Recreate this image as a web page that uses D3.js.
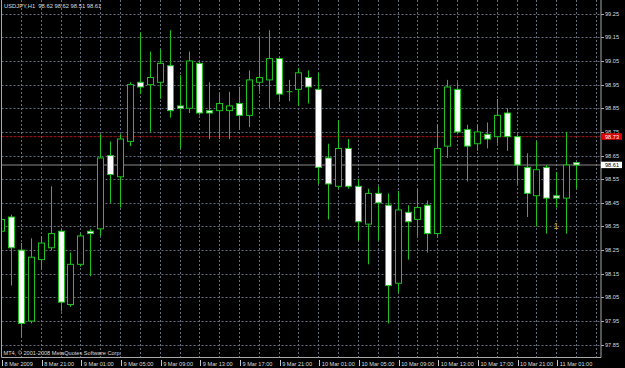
<!DOCTYPE html>
<html>
<head>
<meta charset="utf-8">
<script src="https://cdn.jsdelivr.net/npm/d3@7"></script>
<style>
  html, body { margin: 0; padding: 0; background: #000; }
  svg { display: block; }
  text { font-family: "Liberation Sans", Arial, sans-serif; }
</style>
</head>
<body>
<div id="chart"></div>
<script>
// USDJPY H1 bars, 8 Mar 17:00 .. 11 Mar 03:00 (one per hour)
const opens  = [98.33, 98.39, 98.25, 97.95, 98.21, 98.26, 98.33, 98.02, 98.19, 98.33,
                98.34, 98.65, 98.56, 98.71, 98.96, 98.95, 98.96, 99.03, 98.86, 98.85,
                99.04, 98.84, 98.84, 98.84, 98.87, 98.82, 98.96, 98.97, 99.06, 98.92,
                98.93, 98.98, 98.93, 98.64, 98.52, 98.68, 98.52, 98.36, 98.49, 98.44,
                98.11, 98.41, 98.38, 98.44, 98.32, 98.69, 98.93, 98.76, 98.70, 98.74,
                98.73, 98.83, 98.73, 98.60, 98.48, 98.60, 98.48, 98.47, 98.62];
const highs  = [98.41, 98.40, 98.28, 98.30, 98.31, 98.52, 98.34, 98.24, 98.32, 98.34,
                98.74, 98.71, 98.74, 98.96, 99.17, 99.09, 99.10, 99.18, 98.99, 99.09,
                99.05, 98.96, 98.91, 98.92, 98.94, 99.01, 99.15, 99.18, 99.07, 98.97,
                99.02, 99.01, 99.00, 98.70, 98.80, 98.72, 98.55, 98.51, 98.52, 98.49,
                98.50, 98.44, 98.51, 98.46, 98.78, 98.97, 98.96, 98.78, 98.78, 98.79,
                98.89, 98.85, 98.74, 98.66, 98.71, 98.61, 98.58, 98.75, 98.62];
const lows   = [98.26, 98.10, 97.88, 97.94, 98.17, 98.25, 97.99, 98.01, 98.18, 98.14,
                98.31, 98.45, 98.43, 98.69, 98.91, 98.75, 98.89, 98.81, 98.68, 98.83,
                98.82, 98.72, 98.72, 98.72, 98.76, 98.77, 98.92, 98.85, 98.88, 98.88,
                98.86, 98.87, 98.53, 98.38, 98.51, 98.51, 98.29, 98.19, 98.29, 97.94,
                98.07, 98.21, 98.31, 98.24, 98.31, 98.64, 98.74, 98.54, 98.67, 98.68,
                98.70, 98.67, 98.53, 98.39, 98.35, 98.32, 98.43, 98.32, 98.51];
const closes = [98.38, 98.26, 97.94, 98.22, 98.28, 98.32, 98.03, 98.19, 98.31, 98.32,
                98.64, 98.57, 98.72, 98.95, 98.94, 98.98, 99.04, 98.84, 98.85, 99.05,
                98.83, 98.83, 98.87, 98.86, 98.82, 98.97, 98.98, 99.06, 98.91, 98.92,
                99.00, 98.94, 98.60, 98.53, 98.68, 98.52, 98.37, 98.49, 98.45, 98.10,
                98.42, 98.37, 98.43, 98.32, 98.68, 98.94, 98.75, 98.69, 98.75, 98.72,
                98.82, 98.73, 98.61, 98.49, 98.59, 98.47, 98.47, 98.61, 98.61];

const timeLabels = ["8 Mar 2009", "8 Mar 21:00", "9 Mar 01:00", "9 Mar 05:00", "9 Mar 09:00",
                    "9 Mar 13:00", "9 Mar 17:00", "9 Mar 21:00", "10 Mar 01:00", "10 Mar 05:00",
                    "10 Mar 09:00", "10 Mar 13:00", "10 Mar 17:00", "10 Mar 21:00", "11 Mar 01:00"];
const priceTicks = [99.25, 99.15, 99.05, 98.95, 98.85, 98.75, 98.65, 98.55,
                    98.45, 98.35, 98.25, 98.15, 98.05, 97.95, 97.85];
const askPrice = 98.73;
const bidPrice = 98.61;

const W = 625, H = 368;
const left = 1.5, right = 601, bottom = 357.5;
const green = "#1cc41c";
const gridColor = "#646e7e";
const textColor = "#dcdcdc";

const svg = d3.select("#chart").append("svg").attr("width", W).attr("height", H);
svg.append("rect").attr("width", W).attr("height", H).attr("fill", "#000");

// bar index -> pixel (about 9.9 px per hour)
const x = d3.scaleLinear().domain([0, 60]).range([1.04, 1.04 + 60 * 9.915]);
const y = d3.scaleLinear().domain([97.85, 99.25]).range([344.7, 13.7]);

svg.append("clipPath").attr("id", "plot")
  .append("rect").attr("x", left + 0.5).attr("y", 0).attr("width", right - left - 1).attr("height", bottom);

// grid
const grid = svg.append("g").attr("stroke", gridColor).attr("stroke-dasharray", "2,2").attr("stroke-width", 1);
grid.selectAll("line.h").data(priceTicks).join("line").attr("class", "h")
  .attr("x1", left).attr("x2", right)
  .attr("y1", d => Math.round(y(d)) + 0.5).attr("y2", d => Math.round(y(d)) + 0.5);
grid.selectAll("line.v").data(d3.range(2, 61, 2)).join("line").attr("class", "v")
  .attr("x1", d => Math.round(x(d)) + 0.5).attr("x2", d => Math.round(x(d)) + 0.5)
  .attr("y1", 0).attr("y2", bottom);

// ask / bid lines
svg.append("line").attr("x1", left).attr("x2", right)
  .attr("y1", y(askPrice)).attr("y2", y(askPrice))
  .attr("stroke", "#a01414").attr("stroke-width", 1).attr("stroke-dasharray", "3,1");
svg.append("line").attr("x1", left).attr("x2", right)
  .attr("y1", y(bidPrice)).attr("y2", y(bidPrice))
  .attr("stroke", "#8a8a8a").attr("stroke-width", 1);

// candles
const bars = opens.map((o, i) => ({ i, o, h: highs[i], l: lows[i], c: closes[i] }));
const plot = svg.append("g").attr("clip-path", "url(#plot)");
plot.selectAll("line.wick").data(bars).join("line").attr("class", "wick")
  .attr("x1", d => Math.round(x(d.i)) + 0.5).attr("x2", d => Math.round(x(d.i)) + 0.5)
  .attr("y1", d => y(d.h)).attr("y2", d => y(d.l))
  .attr("stroke", green).attr("stroke-width", 1);
plot.selectAll("rect.body").data(bars.filter(d => d.o !== d.c)).join("rect").attr("class", "body")
  .attr("x", d => Math.round(x(d.i)) - 2.5)
  .attr("y", d => y(Math.max(d.o, d.c)))
  .attr("width", 6)
  .attr("height", d => Math.max(1, Math.abs(y(d.o) - y(d.c))))
  .attr("fill", d => d.c > d.o ? "#000" : "#fff")
  .attr("stroke", green).attr("stroke-width", 1);
plot.selectAll("line.doji").data(bars.filter(d => d.o === d.c)).join("line").attr("class", "doji")
  .attr("x1", d => Math.round(x(d.i)) - 2.5).attr("x2", d => Math.round(x(d.i)) + 3.5)
  .attr("y1", d => y(d.o)).attr("y2", d => y(d.o))
  .attr("stroke", green).attr("stroke-width", 1);

// frame
const frame = svg.append("g").attr("stroke", "#a8a8a8").attr("stroke-width", 1).attr("fill", "none");
frame.append("path").attr("d", `M${left},0V${bottom}H${right}V0`);

// price axis
const yAxis = svg.append("g");
yAxis.selectAll("line").data(priceTicks).join("line")
  .attr("x1", right).attr("x2", right + 3)
  .attr("y1", d => Math.round(y(d)) + 0.5).attr("y2", d => Math.round(y(d)) + 0.5)
  .attr("stroke", "#a8a8a8");
yAxis.selectAll("text").data(priceTicks).join("text")
  .attr("x", right + 4).attr("y", d => y(d) + 2)
  .attr("font-size", 5.6).attr("fill", textColor)
  .text(d => d.toFixed(2));

// current price boxes
const boxes = [
  { p: askPrice, bg: "#e00000", fg: "#ffffff" },
  { p: bidPrice, bg: "#ffffff", fg: "#000000" }
];
boxes.forEach(b => {
  svg.append("rect").attr("x", right).attr("y", y(b.p) - 3.3).attr("width", 21).attr("height", 6.4).attr("fill", b.bg);
  svg.append("text").attr("x", right + 4).attr("y", y(b.p) + 2)
    .attr("font-size", 5.6).attr("fill", b.fg).text(b.p.toFixed(2));
});

// time axis
const xAxis = svg.append("g");
xAxis.selectAll("line").data(timeLabels).join("line")
  .attr("x1", (d, i) => Math.round(x(i * 4)) + 1.5).attr("x2", (d, i) => Math.round(x(i * 4)) + 1.5)
  .attr("y1", 360).attr("y2", 366)
  .attr("stroke", "#c8c8c8");
xAxis.selectAll("text").data(timeLabels).join("text")
  .attr("x", (d, i) => x(i * 4) + 3.5).attr("y", 365.5)
  .attr("font-size", 5.6).attr("fill", textColor)
  .text(d => d);

// header and footer
svg.append("text").attr("x", 4).attr("y", 8).attr("font-size", 5.8).attr("fill", textColor)
  .attr("xml:space", "preserve")
  .text("USDJPY,H1  98.62 98.62 98.51 98.61");
svg.append("text").attr("x", 3.5).attr("y", 354.5).attr("font-size", 5.6).attr("fill", textColor)
  .text("MT4, \u00A9 2001-2008 MetaQuotes Software Corp.");

// object label
svg.append("text").attr("x", 553.5).attr("y", 229).attr("font-size", 9).attr("fill", "#d4b830")
  .text("1");
</script>
</body>
</html>
